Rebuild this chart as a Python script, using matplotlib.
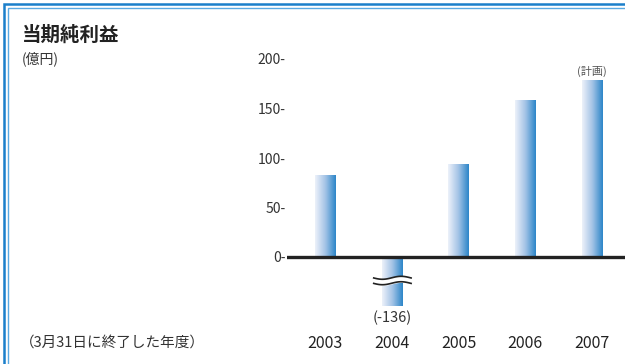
import matplotlib.pyplot as plt
import numpy as np
from matplotlib.colors import LinearSegmentedColormap

plt.rcParams['font.family'] = ['Noto Sans CJK JP', 'DejaVu Sans']

# net income by fiscal year (100 million yen)
years = ['2003', '2004', '2005', '2006', '2007']
net_income = [82, -136, 93, 158, 178]
yticks = [0, 50, 100, 150, 200]
plan_label = '(計画)'
break_floor = -50  # the 2004 bar is cut off here and drawn with a break mark

TEXT = '#333333'
bar_cmap = LinearSegmentedColormap.from_list(
    'bar', ['#eef2fa', '#a3c3e6', '#2b85c8'])

W, H = 625, 364
fig = plt.figure(figsize=(W / 100, H / 100), dpi=100)

# overlay in pixel coordinates for the frame and free text
over = fig.add_axes([0, 0, 1, 1])
over.set_xlim(0, W)
over.set_ylim(H, 0)
over.axis('off')

# double blue frame (left and top only)
over.plot([3.5, 3.5, W], [H, 3.5, 3.5], color='#1b7fca', lw=1.8,
          solid_capstyle='butt', solid_joinstyle='miter')
over.plot([7.5, 7.5, W], [H, 7.5, 7.5], color='#5aa9e2', lw=1.0,
          solid_capstyle='butt', solid_joinstyle='miter')

over.text(22, 35, '当期純利益', fontsize=14, fontweight='bold', color='#222222',
          va='center', ha='left')
over.text(22, 59, '(億円)', fontsize=10, color=TEXT, va='center', ha='left')
over.text(20, 343, '（3月31日に終了した年度）', fontsize=10.5, color=TEXT,
          va='center', ha='left')

# chart axes: x pixel 287..625, y pixel 40..330
ax_px = (287, 40, 625, 330)
ax = fig.add_axes([ax_px[0] / W, 1 - ax_px[3] / H,
                   (ax_px[2] - ax_px[0]) / W, (ax_px[3] - ax_px[1]) / H])
px_per_unit = 0.99
slot = 66.75
zero_px = 257
x0 = (ax_px[0] - 325) / slot
x1 = (ax_px[2] - 325) / slot
y_top = (zero_px - ax_px[1]) / px_per_unit
y_bot = (zero_px - ax_px[3]) / px_per_unit

grad = np.linspace(0, 1, 256).reshape(1, -1)
bw = 0.30
for i, v in enumerate(net_income):
    lo, hi = sorted([0, max(v, break_floor)])
    ax.imshow(grad, extent=[i - bw / 2, i + bw / 2, lo, hi], aspect='auto',
              cmap=bar_cmap, origin='lower', zorder=2, interpolation='bicubic')
    if v < break_floor:
        # wavy break mark across the truncated bar
        xs = np.linspace(i - 0.27, i + 0.29, 60)
        wave = 1.5 * np.sin((xs - i) * 2 * np.pi / 0.56)
        ax.fill_between(xs, -21 + wave, -26.5 + wave, color='white', zorder=3)
        ax.plot(xs, -21 + wave, color='#222222', lw=1.2, zorder=4)
        ax.plot(xs, -26.5 + wave, color='#222222', lw=1.2, zorder=4)
        ax.text(i, -62, f'({v})', fontsize=10.5, color=TEXT, ha='center', va='center')

ax.text(len(years) - 1, 187, plan_label, fontsize=8, color='#555555',
        ha='center', va='center')

ax.axhline(0, color='#222222', lw=2.4, zorder=5)

ax.set_xlim(x0, x1)
ax.set_ylim(y_bot, y_top)
ax.set_yticks(yticks)
ax.set_yticklabels([f'{t}-' for t in yticks], fontsize=10, color=TEXT)
ax.tick_params(axis='y', length=0, pad=1)
ax.set_xticks([])
for s in ax.spines.values():
    s.set_visible(False)
ax.patch.set_alpha(0)

# year labels below the plot area
for i, y in enumerate(years):
    ax.text(i, (zero_px - 343) / px_per_unit, y, fontsize=11.5, color='#222222',
            ha='center', va='center', clip_on=False)

fig.savefig('out.png', dpi=100)
